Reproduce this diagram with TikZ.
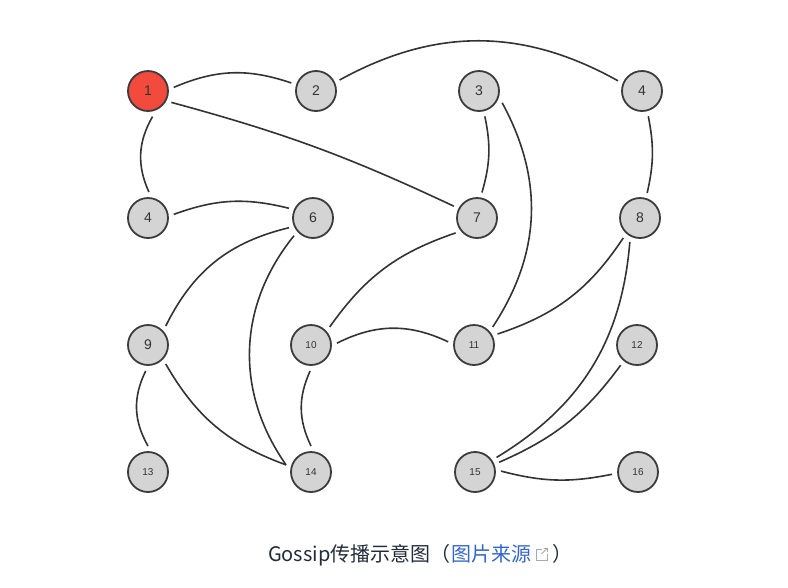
\documentclass[tikz,border=0pt]{standalone}
\usepackage{fontspec}
\setmainfont{Liberation Sans}
\newfontfamily\cjkfont{Noto Sans CJK SC}
\definecolor{nodefill}{HTML}{D4D4D4}
\definecolor{nodeline}{HTML}{3C3C3C}
\definecolor{redfill}{HTML}{F24A3C}
\definecolor{edgecol}{HTML}{333333}
\definecolor{captext}{HTML}{222C3A}
\definecolor{linkblue}{HTML}{3366CC}
\definecolor{icongray}{HTML}{A8A8A8}
\tikzset{
  gnode/.style={circle, draw=nodeline, fill=nodefill, line width=1.8pt,
    minimum size=40pt, inner sep=0pt, outer sep=6pt, text=black!80,
    font=\fontsize{14}{14}\selectfont},
  smalllab/.style={font=\fontsize{10}{10}\selectfont},
  redn/.style={fill=redfill},
  gedge/.style={draw=edgecol, line width=1.6pt},
  captxt/.style={inner sep=0pt, outer sep=0pt, text=captext,
    font=\cjkfont\fontsize{20}{20}\selectfont},
}
\begin{document}
\begin{tikzpicture}[x=1pt,y=1pt]
\useasboundingbox (0,0) rectangle (788,-587);
% nodes
\node[gnode,redn] (n1)  at (148,-91)  {1};
\node[gnode]      (n2)  at (316,-91)  {2};
\node[gnode]      (n3)  at (479,-91)  {3};
\node[gnode]      (n4a) at (642,-91)  {4};
\node[gnode]      (n4b) at (148,-218) {4};
\node[gnode]      (n6)  at (313,-218) {6};
\node[gnode]      (n7)  at (477,-218) {7};
\node[gnode]      (n8)  at (640,-218) {8};
\node[gnode]      (n9)  at (148,-345) {9};
\node[gnode,smalllab] (n10) at (311,-345) {10};
\node[gnode,smalllab] (n11) at (474,-345) {11};
\node[gnode,smalllab] (n12) at (637,-345) {12};
\node[gnode,smalllab] (n13) at (148,-472) {13};
\node[gnode,smalllab] (n14) at (311,-472) {14};
\node[gnode,smalllab] (n15) at (475,-472) {15};
\node[gnode,smalllab] (n16) at (638,-472) {16};
% edges
\draw[gedge] (n1.8) to[bend left=21] (n2.162);
\draw[gedge] (n2.25) to[bend left=29] (n4a.157);
\draw[gedge] (n1.-26) to[bend left=5] (n7.153);
\draw[gedge] (n1.-80) to[bend right=27] (n4b.88);
\draw[gedge] (n3.-77) to[bend left=14] (n7.79);
\draw[gedge] (n3.-27) to[bend left=31] (n11.44);
\draw[gedge] (n4a.-76) to[bend left=12] (n8.74);
\draw[gedge] (n4b.8) to[bend left=17] (n6.158);
\draw[gedge] (n6.202) to[bend right=25] (n9.47);
\draw[gedge] (n6.-137) to[bend right=37] (n14.164);
\draw[gedge] (n7.-145) to[bend right=18] (n10.44);
\draw[gedge] (n8.-130) to[bend left=19] (n11.25);
\draw[gedge] (n8.-113) to[bend left=27] (n15.34);
\draw[gedge] (n12.-129) to[bend left=15] (n15.22);
\draw[gedge] (n10.4) to[bend left=26] (n11.173);
\draw[gedge] (n10.-92) to[bend right=25] (n14.90);
\draw[gedge] (n9.-95) to[bend right=28] (n13.90);
\draw[gedge] (n9.-47) to[bend right=20] (n14.164);
\draw[gedge] (n15.2) to[bend right=13] (n16.-175);
% caption
\node[captxt, anchor=base west] (capA) at (268,-561) {Gossip传播示意图（};
\node[captxt, anchor=base west, text=linkblue] (capB) at ([xshift=1pt]capA.base east) {图片来源};
\coordinate (ic) at ([xshift=5pt,yshift=1pt]capB.base east);
\draw[icongray, line width=0.9pt] ([xshift=5pt,yshift=11pt]ic) -- ([yshift=11pt]ic) -- (ic) -- ([xshift=11pt]ic) -- ([xshift=11pt,yshift=6pt]ic);
\draw[icongray, line width=0.9pt] ([xshift=5pt,yshift=6pt]ic) -- ([xshift=11pt,yshift=12pt]ic);
\draw[icongray, line width=0.9pt] ([xshift=7pt,yshift=12pt]ic) -- ([xshift=11pt,yshift=12pt]ic) -- ([xshift=11pt,yshift=8pt]ic);
\node[captxt, anchor=base west] (capC) at ([xshift=21pt]capB.base east) {）};
\end{tikzpicture}
\end{document}
